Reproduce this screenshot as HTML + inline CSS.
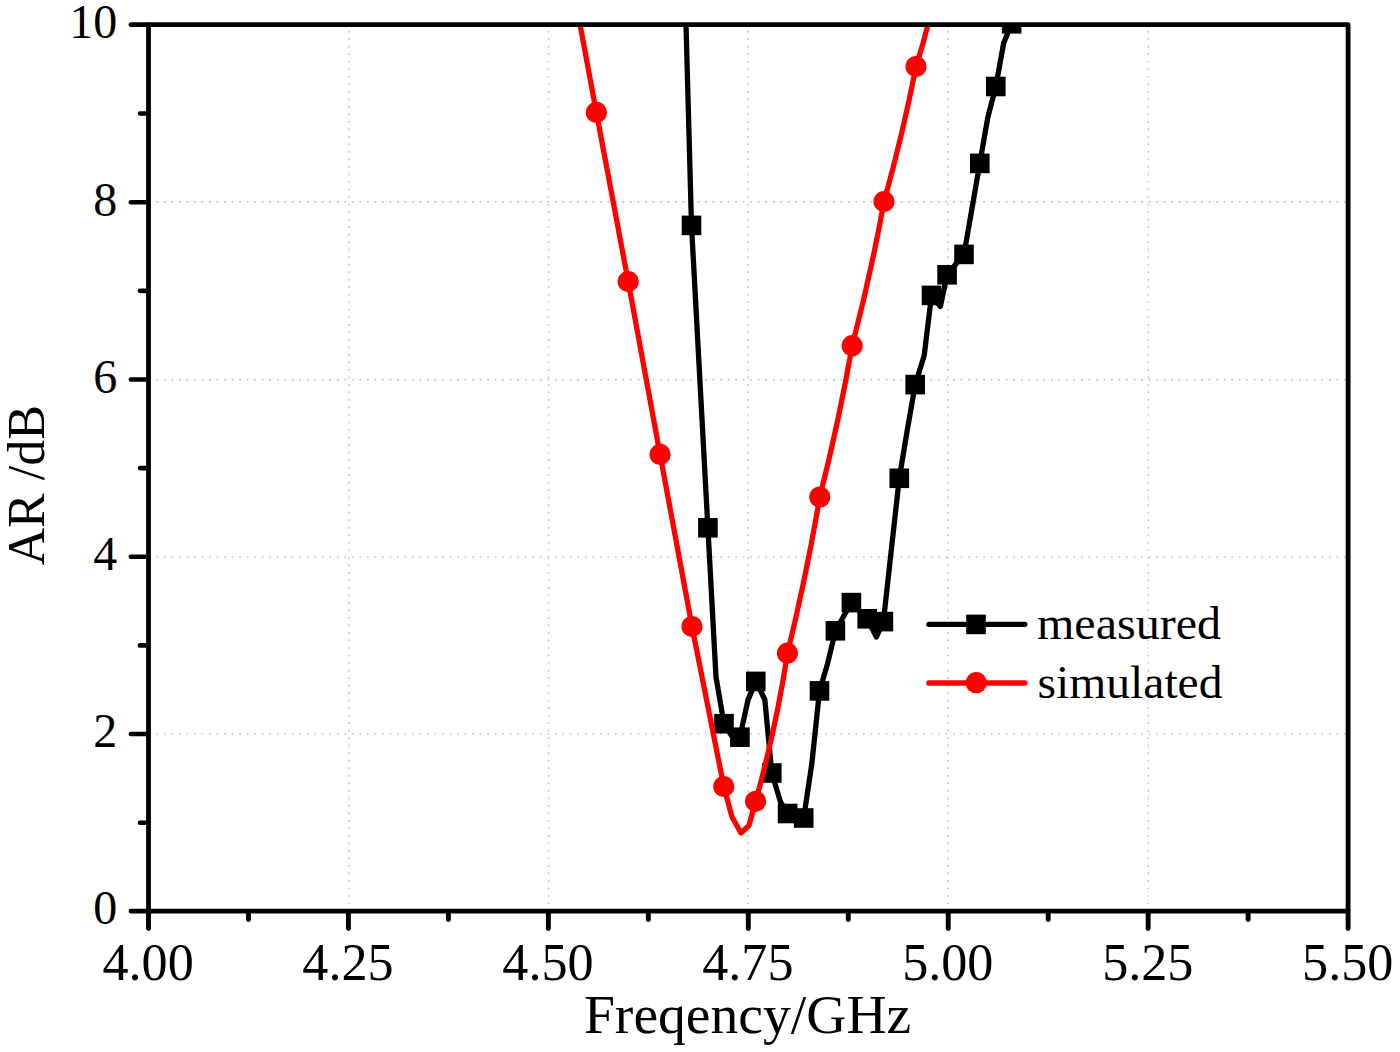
<!DOCTYPE html>
<html><head><meta charset="utf-8"><title>AR chart</title>
<style>
html,body{margin:0;padding:0;background:#fff;}
body{width:1400px;height:1052px;overflow:hidden;}
svg{display:block;}
text{font-family:"Liberation Serif",serif;fill:#000;}
</style></head><body>
<svg width="1400" height="1052" viewBox="0 0 1400 1052">
<rect x="0" y="0" width="1400" height="1052" fill="#fff"/>
<defs><clipPath id="plot"><rect x="148.5" y="24.1" width="1199.6" height="887.0"/></clipPath></defs>

<g stroke="#c6c6c6" stroke-width="1.6" stroke-dasharray="1.7 5.816" fill="none">
<line x1="349.00" y1="23.3" x2="349.00" y2="909.1"/>
<line x1="548.50" y1="23.3" x2="548.50" y2="909.1"/>
<line x1="748.30" y1="23.3" x2="748.30" y2="909.1"/>
<line x1="947.90" y1="23.3" x2="947.90" y2="909.1"/>
<line x1="1148.40" y1="23.3" x2="1148.40" y2="909.1"/>
<line x1="149.0" y1="201.90" x2="1346.1" y2="201.90"/>
<line x1="149.0" y1="379.60" x2="1346.1" y2="379.60"/>
<line x1="149.0" y1="557.00" x2="1346.1" y2="557.00"/>
<line x1="149.0" y1="734.00" x2="1346.1" y2="734.00"/>
</g>
<g clip-path="url(#plot)">
<polyline points="683.5,-67.0 691.5,225.4 699.7,376.7 707.9,527.8 716.0,677.0 724.0,723.7 731.8,736.0 739.9,737.2 748.0,699.9 755.8,681.4 764.8,699.5 771.8,773.0 780.5,802.0 787.6,813.5 795.7,816.5 803.7,818.0 811.8,764.0 819.5,690.9 827.5,664.0 835.4,630.8 843.4,616.7 851.4,602.6 859.3,611.0 867.2,618.8 876.4,637.0 883.4,621.6 891.3,550.0 899.3,478.3 907.3,430.0 915.2,384.6 924.2,355.5 931.5,295.4 940.4,306.5 947.1,274.8 955.5,264.5 964.0,254.4 971.8,209.5 979.8,163.4 987.7,118.0 995.8,86.5 1003.7,43.0 1011.6,23.8" fill="none" stroke="#000" stroke-width="5.3" stroke-linejoin="round" stroke-linecap="round"/>
<rect x="681.7" y="215.6" width="19.6" height="19.6" fill="#000"/>
<rect x="698.1" y="518.0" width="19.6" height="19.6" fill="#000"/>
<rect x="714.2" y="713.9" width="19.6" height="19.6" fill="#000"/>
<rect x="730.1" y="727.4" width="19.6" height="19.6" fill="#000"/>
<rect x="746.0" y="671.6" width="19.6" height="19.6" fill="#000"/>
<rect x="762.0" y="763.2" width="19.6" height="19.6" fill="#000"/>
<rect x="777.8" y="803.7" width="19.6" height="19.6" fill="#000"/>
<rect x="793.9" y="808.2" width="19.6" height="19.6" fill="#000"/>
<rect x="809.7" y="681.1" width="19.6" height="19.6" fill="#000"/>
<rect x="825.6" y="621.0" width="19.6" height="19.6" fill="#000"/>
<rect x="841.6" y="592.8" width="19.6" height="19.6" fill="#000"/>
<rect x="857.4" y="609.0" width="19.6" height="19.6" fill="#000"/>
<rect x="873.6" y="611.8" width="19.6" height="19.6" fill="#000"/>
<rect x="889.5" y="468.5" width="19.6" height="19.6" fill="#000"/>
<rect x="905.4" y="374.8" width="19.6" height="19.6" fill="#000"/>
<rect x="921.7" y="285.6" width="19.6" height="19.6" fill="#000"/>
<rect x="937.3" y="265.0" width="19.6" height="19.6" fill="#000"/>
<rect x="954.2" y="244.6" width="19.6" height="19.6" fill="#000"/>
<rect x="970.0" y="153.6" width="19.6" height="19.6" fill="#000"/>
<rect x="986.0" y="76.7" width="19.6" height="19.6" fill="#000"/>
<rect x="1001.8" y="14.0" width="19.6" height="19.6" fill="#000"/>
<path d="M572.0,-18.4 L596.4,112.4 L628.2,281.6 L660.1,454.4 L692.0,626.6 L723.8,786.5 L732.0,817.0 L741.0,833.0 L749.0,825.5 L755.6,801.3 Q776.1,728.2 787.5,653.2 Q806.4,575.7 819.8,497.0 Q838.8,422.0 852.2,345.7 Q870.9,274.2 884.0,201.6 Q902.8,134.7 916.0,66.6 Q929.4,24.9 937.3,-18.0" fill="none" stroke="#f00" stroke-width="5.3" stroke-linejoin="round" stroke-linecap="round"/>
<circle cx="596.4" cy="112.4" r="10.6" fill="#f00"/>
<circle cx="628.2" cy="281.6" r="10.6" fill="#f00"/>
<circle cx="660.1" cy="454.4" r="10.6" fill="#f00"/>
<circle cx="692.0" cy="626.6" r="10.6" fill="#f00"/>
<circle cx="723.8" cy="786.5" r="10.6" fill="#f00"/>
<circle cx="755.6" cy="801.3" r="10.6" fill="#f00"/>
<circle cx="787.5" cy="653.2" r="10.6" fill="#f00"/>
<circle cx="819.8" cy="497.0" r="10.6" fill="#f00"/>
<circle cx="852.2" cy="345.7" r="10.6" fill="#f00"/>
<circle cx="884.0" cy="201.6" r="10.6" fill="#f00"/>
<circle cx="916.0" cy="66.6" r="10.6" fill="#f00"/>
</g>
<g stroke="#000" stroke-width="4.8" stroke-linecap="round" stroke-linejoin="round" fill="none">
<rect x="148.50" y="24.65" width="1199.60" height="886.45"/>
</g>
<g stroke="#000" stroke-width="4.6" stroke-linecap="round" fill="none">
<line x1="147.5" y1="911.10" x2="130.85" y2="911.10"/>
<line x1="147.5" y1="822.71" x2="140.00" y2="822.71"/>
<line x1="147.5" y1="734.06" x2="130.85" y2="734.06"/>
<line x1="147.5" y1="645.41" x2="140.00" y2="645.41"/>
<line x1="147.5" y1="556.77" x2="130.85" y2="556.77"/>
<line x1="147.5" y1="468.12" x2="140.00" y2="468.12"/>
<line x1="147.5" y1="379.48" x2="130.85" y2="379.48"/>
<line x1="147.5" y1="290.83" x2="140.00" y2="290.83"/>
<line x1="147.5" y1="202.19" x2="130.85" y2="202.19"/>
<line x1="147.5" y1="113.54" x2="140.00" y2="113.54"/>
<line x1="147.5" y1="24.65" x2="130.85" y2="24.65"/>
</g>
<g stroke="#000" stroke-width="4.9" stroke-linecap="round" fill="none">
<line x1="148.50" y1="912.10" x2="148.50" y2="928.50"/>
<line x1="248.47" y1="912.10" x2="248.47" y2="919.50"/>
<line x1="348.43" y1="912.10" x2="348.43" y2="928.50"/>
<line x1="448.40" y1="912.10" x2="448.40" y2="919.50"/>
<line x1="548.37" y1="912.10" x2="548.37" y2="928.50"/>
<line x1="648.33" y1="912.10" x2="648.33" y2="919.50"/>
<line x1="748.30" y1="912.10" x2="748.30" y2="928.50"/>
<line x1="848.26" y1="912.10" x2="848.26" y2="919.50"/>
<line x1="948.23" y1="912.10" x2="948.23" y2="928.50"/>
<line x1="1048.20" y1="912.10" x2="1048.20" y2="919.50"/>
<line x1="1148.16" y1="912.10" x2="1148.16" y2="928.50"/>
<line x1="1248.13" y1="912.10" x2="1248.13" y2="919.50"/>
<line x1="1348.10" y1="912.10" x2="1348.10" y2="928.50"/>
</g>
<g font-size="48" text-anchor="end">
<text x="117.3" y="924.25">0</text>
<text x="117.3" y="747.08">2</text>
<text x="117.3" y="569.91">4</text>
<text x="117.3" y="392.74">6</text>
<text x="117.3" y="215.57">8</text>
<text x="117.3" y="38.40">10</text>
</g>
<g font-size="53.6" text-anchor="middle">
<text transform="translate(148.1,980.2) scale(0.974,1)">4.00</text>
<text transform="translate(348.0,980.2) scale(0.974,1)">4.25</text>
<text transform="translate(548.0,980.2) scale(0.974,1)">4.50</text>
<text transform="translate(747.9,980.2) scale(0.974,1)">4.75</text>
<text transform="translate(947.8,980.2) scale(0.974,1)">5.00</text>
<text transform="translate(1147.8,980.2) scale(0.974,1)">5.25</text>
<text transform="translate(1347.7,980.2) scale(0.974,1)">5.50</text>
</g>
<text x="747.6" y="1032.9" font-size="55.6" text-anchor="middle">Freqency/GHz</text>
<text transform="translate(44.1,485.3) rotate(-90) scale(0.989,1)" font-size="52.6" text-anchor="middle">AR /dB</text>
<g stroke-width="5.3" stroke-linecap="round">
<line x1="928.9" y1="624.3" x2="1024.9" y2="624.3" stroke="#000"/>
<line x1="928.9" y1="683.0" x2="1024.9" y2="683.0" stroke="#f00"/>
</g>
<rect x="966.2" y="614.6" width="19.6" height="19.6" fill="#000"/>
<circle cx="976.2" cy="682.7" r="10.6" fill="#f00"/>
<text transform="translate(1037.0,639.1) scale(1.024,1)" font-size="46.9">measured</text>
<text transform="translate(1037.6,698.3) scale(1.014,1)" font-size="46.9">simulated</text>
</svg></body></html>
